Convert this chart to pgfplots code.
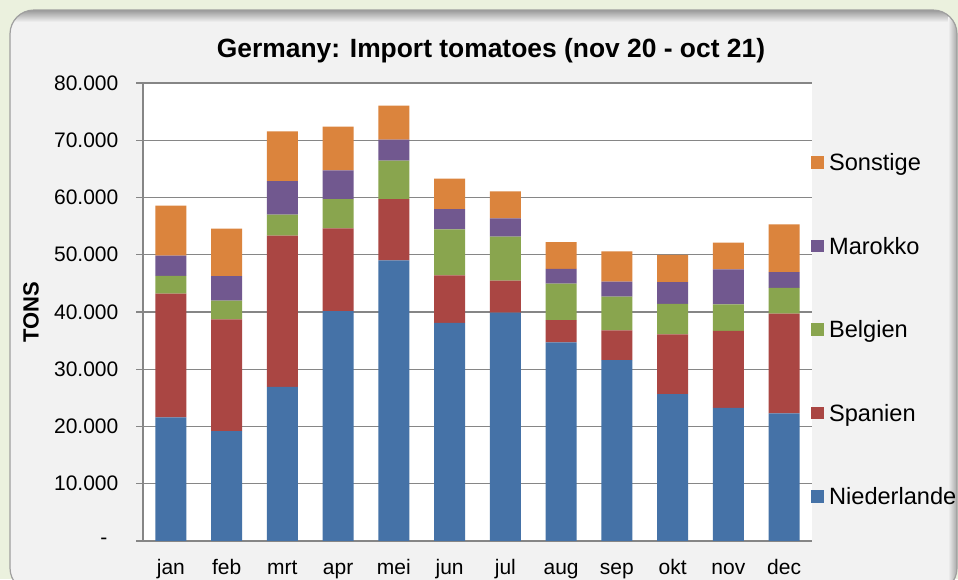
\documentclass[border=0pt]{standalone}
\usepackage{fontspec}
\setmainfont{Liberation Sans}
\usepackage{pgfplots}
\pgfplotsset{compat=1.18}
\definecolor{bggreen}{HTML}{EBF1DE}
\definecolor{panel}{HTML}{F2F2F2}
\definecolor{gridgray}{HTML}{868686}
\definecolor{cN}{HTML}{4572A7}
\definecolor{cS}{HTML}{AA4643}
\definecolor{cB}{HTML}{89A54E}
\definecolor{cM}{HTML}{71588F}
\definecolor{cO}{HTML}{DB843D}
\begin{document}
\begin{tikzpicture}
\useasboundingbox (0,0) rectangle (479pt,-289.5pt);
\fill[bggreen] (0,0) rectangle (479pt,-289.5pt);
\fill[panel,rounded corners=12pt] (5pt,-5pt) rectangle (478.5pt,-296pt);
\begin{scope}
\clip[rounded corners=12pt] (5pt,-5pt) rectangle (478.5pt,-296pt);
\shade[top color=gray!80, bottom color=panel] (5pt,-5pt) rectangle (479pt,-11pt);
\shade[left color=panel, right color=gray!70] (474pt,-5pt) rectangle (478.5pt,-296pt);
\end{scope}
\draw[gray!75,line width=0.6pt,rounded corners=12pt] (5pt,-5pt) rectangle (478.5pt,-296pt);
\node[font=\fontsize{13.2}{15}\selectfont\bfseries,anchor=base] at (245.5pt,-28.5pt) {Germany: Import tomatoes (nov 20 - oct 21)};
\begin{axis}[
  at={(71.5pt,-41.5pt)}, anchor=north west,
  scale only axis, width=334.5pt, height=229pt,
  ybar stacked, bar width=15.5pt,
  xmin=-0.5, xmax=11.5, ymin=0, ymax=80000,
  scaled y ticks=false,
  axis background/.style={fill=white},
  axis x line*=bottom, axis y line*=left,
  axis line style={gridgray, line width=0.7pt},
  xtick={0,...,11},
  xticklabels={jan,feb,mrt,apr,mei,jun,jul,aug,sep,okt,nov,dec},
  minor xtick={-0.5,0.5,...,11.5},
  xtick style={draw=none},
  minor tick length=3pt, major tick length=3.3pt,
  minor x tick style={gridgray, line width=0.7pt},
  ytick={0,10000,...,80000},
  yticklabels={{-\hspace*{5.5pt}},10.000,20.000,30.000,40.000,50.000,60.000,70.000,80.000},
  ytick style={gridgray, line width=0.7pt},
  tick align=outside,
  ymajorgrids, grid style={gridgray, line width=0.7pt},
  tick label style={font=\fontsize{10.5}{12}\selectfont, black},
  xticklabel style={anchor=base, yshift=-13.5pt},
  yticklabel style={anchor=east, xshift=-5.5pt},
  ylabel={\bfseries TONS},
  ylabel style={font=\fontsize{11}{13}\selectfont, at={(axis description cs:0,0.5)}, anchor=center, yshift=56pt},
  reverse legend,
  legend style={at={(axis description cs:1,0.8453)}, anchor=north west, xshift=-0.5pt,
    draw=none, fill=none, inner sep=0pt, outer sep=0pt, row sep=33.3pt,
    column sep=2.75pt,
    font=\fontsize{11.8}{13}\selectfont,
    nodes={inner sep=0pt, text height=8.45pt, text depth=0pt}},
  legend cell align=left,
  legend image code/.code={\fill[#1,draw=none] (0pt,-3.15pt) rectangle (6.3pt,3.15pt);},
]
\addplot[fill=cN, draw=none] coordinates {(0,21600)(1,19200)(2,26900)(3,40150)(4,49000)(5,38100)(6,39900)(7,34700)(8,31600)(9,25650)(10,23250)(11,22300)};
\addplot[fill=cS, draw=none] coordinates {(0,21600)(1,19500)(2,26450)(3,14450)(4,10700)(5,8300)(6,5600)(7,3900)(8,5200)(9,10450)(10,13450)(11,17400)};
\addplot[fill=cB, draw=none] coordinates {(0,3100)(1,3300)(2,3650)(3,5100)(4,6750)(5,8050)(6,7650)(7,6350)(8,5900)(9,5300)(10,4650)(11,4500)};
\addplot[fill=cM, draw=none] coordinates {(0,3550)(1,4250)(2,5850)(3,5050)(4,3650)(5,3500)(6,3200)(7,2600)(8,2600)(9,3800)(10,6100)(11,2750)};
\addplot[fill=cO, draw=none] coordinates {(0,8750)(1,8300)(2,8700)(3,7650)(4,5950)(5,5350)(6,4700)(7,4650)(8,5300)(9,4800)(10,4650)(11,8350)};
\legend{Niederlande,Spanien,Belgien,Marokko,Sonstige}
\end{axis}
\end{tikzpicture}
\end{document}
